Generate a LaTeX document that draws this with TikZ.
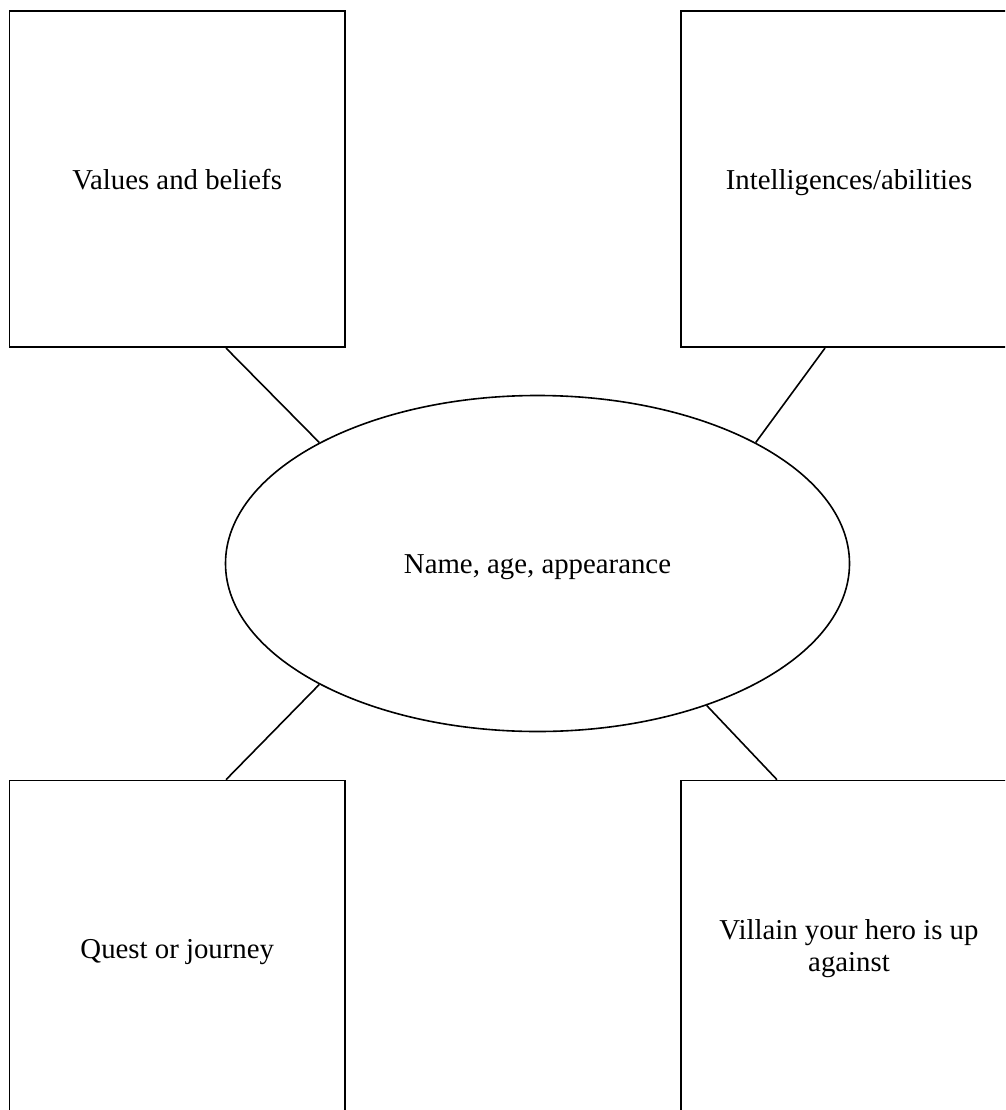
\documentclass[tikz,border=0pt]{standalone}
\usepackage{fontspec}
\setmainfont{Liberation Serif}
\usetikzlibrary{shapes.geometric}

\tikzset{every picture/.style={line width=1.6pt}}

\begin{document}
\begin{tikzpicture}[x=1pt,y=1pt,yscale=-1,xscale=1,
    box/.style={draw, rectangle, minimum width=335.5pt, minimum height=336pt, inner sep=0pt, align=center, font=\fontsize{28.8}{31.5}\selectfont},
    oval/.style={draw, ellipse, minimum width=624pt, minimum height=336pt, inner sep=0pt, font=\fontsize{28.8}{31.5}\selectfont},
    oneline/.style={text height=20pt, text depth=0pt}]

                  \useasboundingbox (0,0) rectangle (1005,1110);
                  \clip (0,0) rectangle (1005,1110);

                  \node [box,oneline] (vb) at (177.25,179.25) {Values and beliefs};
                  \node [box,oneline] (ia) at (849,179.25) {Intelligences/abilities};
                  \node [box,oneline] (qj) at (177.25,948.5) {Quest or journey};
                  \node [box] (vh) at (849,948.5) {Villain your hero is up\\against};

                  \node [oval,oneline] (naa) at (537.5,563.5) {Name, age, appearance};


                  \draw ([xshift=48.75pt]vb.south) -- (naa.151);
                  \draw ([xshift=-24pt]ia.south) -- (naa.29);
                  \draw ([xshift=48.75pt]qj.north) -- (naa.209);
                  \draw ([xshift=-72pt]vh.north) -- (naa.320);


              \end{tikzpicture}
\end{document}
